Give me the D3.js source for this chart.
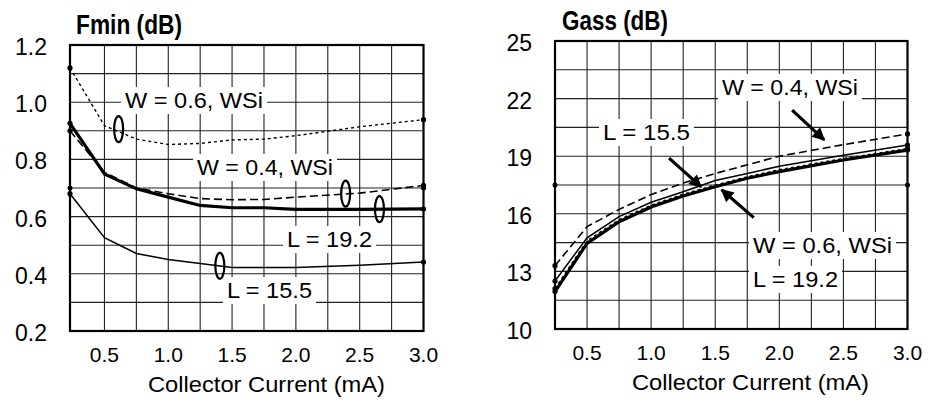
<!DOCTYPE html>
<html>
<head>
<meta charset="utf-8">
<script src="https://cdn.jsdelivr.net/npm/d3@7"></script>
<style>
  body { margin: 0; background: #fff; }
  text { font-family: "Liberation Sans", Arial, Helvetica, sans-serif; fill: #000; }
</style>
</head>
<body>
<div id="chart"></div>
<script>
// Fmin panel
const fminCurrent = [0.23, 0.5, 0.75, 1.0, 1.25, 1.5, 1.75, 2.0, 2.5, 3.0];
const fminW06 = [1.12, 0.918, 0.871, 0.852, 0.856, 0.868, 0.871, 0.883, 0.914, 0.939];
const fminW04 = [0.90, 0.755, 0.70, 0.68, 0.663, 0.659, 0.66, 0.668, 0.682, 0.709];
const fminL192 = [0.926, 0.749, 0.697, 0.668, 0.639, 0.631, 0.631, 0.625, 0.625, 0.627];
const fminL155 = [0.68, 0.526, 0.471, 0.45, 0.436, 0.422, 0.422, 0.422, 0.43, 0.441];
const fminTicks = [0.2, 0.4, 0.6, 0.8, 1.0, 1.2];

// Gass panel
const gassCurrent = [0.25, 0.5, 0.75, 1.0, 1.25, 1.5, 1.75, 2.0, 2.5, 3.0];
const gassW04 = [13.3, 15.33, 16.23, 17.0, 17.6, 18.1, 18.55, 19.0, 19.6, 20.16];
const gassL155 = [12.5, 14.75, 15.85, 16.6, 17.15, 17.73, 18.1, 18.48, 19.05, 19.58];
const gassW06 = [12.1, 14.6, 15.7, 16.45, 17.02, 17.5, 17.93, 18.3, 18.88, 19.4];
const gassL192 = [11.95, 14.46, 15.59, 16.35, 16.93, 17.41, 17.85, 18.2, 18.8, 19.32];
const gassTicks = [10, 13, 16, 19, 22, 25];

const xTicks = [0.5, 1.0, 1.5, 2.0, 2.5, 3.0];
const xGrid = [0.5, 0.75, 1.0, 1.25, 1.5, 1.75, 2.0, 2.25, 2.5, 2.75];

const styles = {
  dotted: { width: 1.4, dash: '3,3' },
  dashed: { width: 1.6, dash: '8,4' },
  thick: { width: 3.2, dash: null },
  thin: { width: 1.5, dash: null }
};

const svg = d3.select('#chart').append('svg')
  .attr('width', 929)
  .attr('height', 400)
  .attr('viewBox', '0 0 929 400');

svg.append('defs').append('marker')
  .attr('id', 'arrow')
  .attr('viewBox', '0 0 10 10')
  .attr('refX', 9).attr('refY', 5)
  .attr('markerWidth', 5).attr('markerHeight', 4)
  .attr('orient', 'auto')
  .append('path')
  .attr('d', 'M0,0 L10,5 L0,10 z')
  .attr('fill', '#000');

function drawPanel(p) {
  const x = d3.scaleLinear().domain(p.xDomain).range([p.left, p.right]);
  const y = d3.scaleLinear().domain(p.yDomain).range([p.bottom, p.top]);
  const g = svg.append('g');

  // grid
  g.append('g').selectAll('line').data(p.yGrid).join('line')
    .attr('x1', p.left).attr('x2', p.right)
    .attr('y1', d => y(d)).attr('y2', d => y(d))
    .attr('stroke', '#222').attr('stroke-width', 1.1);
  g.append('g').selectAll('line').data(xGrid).join('line')
    .attr('y1', p.top).attr('y2', p.bottom)
    .attr('x1', d => x(d)).attr('x2', d => x(d))
    .attr('stroke', '#222').attr('stroke-width', 1.1);

  // middle grid dots on the border
  g.selectAll('circle.mid').data([p.left, p.right]).join('circle')
    .attr('class', 'mid')
    .attr('cx', d => d).attr('cy', y(p.mid)).attr('r', 2.5).attr('fill', '#000');

  // labels on curves (white boxes mask the grid)
  p.labels.forEach(l => {
    const t = g.append('text')
      .attr('x', l.x).attr('y', l.y)
      .attr('font-size', 22)
      .attr('textLength', l.w).attr('lengthAdjust', 'spacingAndGlyphs')
      .text(l.text);
    const b = t.node().getBBox();
    g.insert('rect', 'text')
      .attr('x', b.x - 4).attr('y', b.y - 1)
      .attr('width', b.width + 8).attr('height', b.height + 2)
      .attr('fill', '#fff');
  });

  // curves
  const line = d3.line().x(d => x(d[0])).y(d => y(d[1]));
  p.series.forEach(s => {
    const pts = p.current.map((c, i) => [c, s.values[i]]);
    const st = styles[s.style];
    g.append('path')
      .datum(pts)
      .attr('fill', 'none')
      .attr('stroke', '#000')
      .attr('stroke-width', st.width)
      .attr('stroke-dasharray', st.dash)
      .attr('d', line);
    g.selectAll(null).data([pts[0], pts[pts.length - 1]]).join('circle')
      .attr('cx', d => x(d[0])).attr('cy', d => y(d[1]))
      .attr('r', 2.6).attr('fill', '#000');
  });

  // frame
  g.append('rect')
    .attr('x', p.left).attr('y', p.top)
    .attr('width', p.right - p.left).attr('height', p.bottom - p.top)
    .attr('fill', 'none').attr('stroke', '#000').attr('stroke-width', 2.2);

  // y tick labels
  g.append('g').selectAll('text').data(p.yTicks).join('text')
    .attr('x', p.left - 23).attr('y', d => y(d) + 10)
    .attr('text-anchor', 'end')
    .attr('font-size', 23)
    .text(d => p.yFormat(d));

  // x tick labels
  g.append('g').selectAll('text').data(xTicks).join('text')
    .attr('x', d => x(d)).attr('y', p.bottom + 31)
    .attr('text-anchor', 'middle')
    .attr('font-size', 21)
    .text(d => d3.format('.1f')(d));

  g.append('text')
    .attr('x', p.axisX).attr('y', p.bottom + 61)
    .attr('font-size', 22)
    .attr('textLength', 237).attr('lengthAdjust', 'spacingAndGlyphs')
    .text('Collector Current (mA)');

  g.append('text')
    .attr('x', p.titleX).attr('y', p.top - 11)
    .attr('font-size', 27).attr('font-weight', 'bold')
    .attr('textLength', 106).attr('lengthAdjust', 'spacingAndGlyphs')
    .text(p.title);

  // loop markers
  (p.loops || []).forEach(o => {
    g.append('ellipse')
      .attr('cx', x(o.c)).attr('cy', y(o.v))
      .attr('rx', 4.5).attr('ry', 13)
      .attr('fill', 'none').attr('stroke', '#000').attr('stroke-width', 2.2);
  });

  // arrows
  (p.arrows || []).forEach(a => {
    g.append('line')
      .attr('x1', x(a.from[0])).attr('y1', y(a.from[1]))
      .attr('x2', x(a.to[0])).attr('y2', y(a.to[1]))
      .attr('stroke', '#000').attr('stroke-width', 3.2)
      .attr('marker-end', 'url(#arrow)');
  });
}

drawPanel({
  title: 'Fmin (dB)', titleX: 76,
  left: 70, right: 423.5, top: 45, bottom: 331,
  xDomain: [0.23, 3.0], yDomain: [0.2, 1.2],
  yGrid: d3.range(0.3, 1.15, 0.1), mid: 0.7,
  yTicks: fminTicks, yFormat: d3.format('.1f'),
  axisX: 148,
  current: fminCurrent,
  series: [
    { values: fminW06, style: 'dotted' },
    { values: fminW04, style: 'dashed' },
    { values: fminL155, style: 'thin' },
    { values: fminL192, style: 'thick' }
  ],
  labels: [
    { text: 'W = 0.6, WSi', x: 125, y: 108, w: 138 },
    { text: 'W = 0.4, WSi', x: 197, y: 175, w: 136 },
    { text: 'L = 19.2', x: 287, y: 247, w: 85 },
    { text: 'L = 15.5', x: 227, y: 298, w: 85 }
  ],
  loops: [
    { c: 0.611, v: 0.906 },
    { c: 2.39, v: 0.68 },
    { c: 2.655, v: 0.626 },
    { c: 1.404, v: 0.428 }
  ]
});

drawPanel({
  title: 'Gass (dB)', titleX: 562,
  left: 555, right: 907.5, top: 41, bottom: 329,
  xDomain: [0.25, 3.0], yDomain: [10, 25],
  yGrid: d3.range(11.5, 24, 1.5), mid: 17.5,
  yTicks: gassTicks, yFormat: d3.format('d'),
  axisX: 632,
  current: gassCurrent,
  series: [
    { values: gassW04, style: 'dashed' },
    { values: gassL155, style: 'thin' },
    { values: gassW06, style: 'dotted' },
    { values: gassL192, style: 'thick' }
  ],
  labels: [
    { text: 'W = 0.4, WSi', x: 722, y: 95, w: 136 },
    { text: 'L = 15.5', x: 603, y: 140, w: 87 },
    { text: 'W = 0.6, WSi', x: 753, y: 253, w: 139 },
    { text: 'L = 19.2', x: 753, y: 287, w: 85 }
  ],
  arrows: [
    { from: [2.1, 21.4], to: [2.35, 19.85] },
    { from: [1.14, 18.9], to: [1.39, 17.4] },
    { from: [1.8, 15.8], to: [1.55, 17.25] }
  ]
});
</script>
</body>
</html>
